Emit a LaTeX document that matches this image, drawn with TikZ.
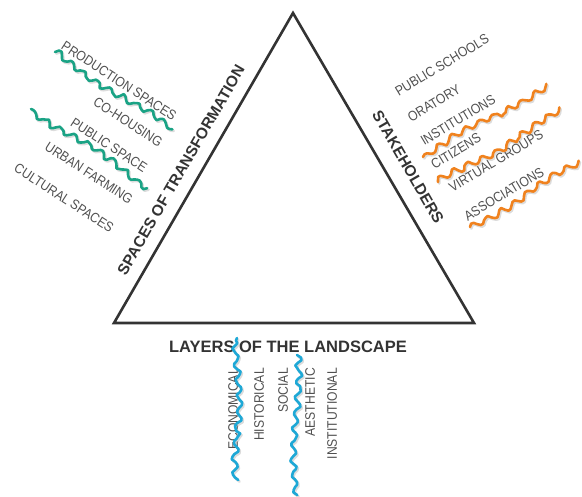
\documentclass[tikz,border=0pt]{standalone}
\usepackage{fontspec}
\setmainfont{Liberation Sans}
\newfontfamily\labfont[FakeStretch=0.88]{Liberation Sans}
\usetikzlibrary{calc}
\definecolor{tri}{HTML}{333333}
\definecolor{lbl}{HTML}{505050}
\definecolor{wgreen}{HTML}{1AA385}
\definecolor{worange}{HTML}{F0821E}
\definecolor{wblue}{HTML}{1EA8D6}
\tikzset{
  lab/.style={text=lbl, font=\labfont\fontsize{13.8}{14}\selectfont, inner sep=0pt},
  head/.style={text=tri, font=\bfseries\fontsize{15.5}{16}\selectfont, inner sep=0pt},
  wavebase/.style={line width=2.6pt, line cap=round, line join=round},
  waveshadow/.style={wavebase, black!45, opacity=0.3, transform canvas={shift={(1.3pt,-1.6pt)}}},
}
% #1 colour, #2 start, #3 end, #4 number of steps, #5 seed, #6 prefix
\newcommand\wavyline[6]{%
  \pgfmathsetseed{#5}%
  \coordinate (#60) at (#2);
  \foreach \i in {1,...,#4}{%
    \pgfmathsetmacro\tt{\i/#4}%
    \pgfmathsetmacro\oo{2.8*sin(\i*60+20*rand)+0.8*rand+2.4*sin(\i*7+#5*47)}%
    \coordinate (tmp) at ($(#2)!\tt!(#3)$);
    \coordinate (#6\i) at ($(tmp)!\oo pt!-90:(#2)$);
  }
  \draw[waveshadow] (#60) \foreach \i in {1,...,#4}{ -- (#6\i) };
  \draw[wavebase,#1] (#60) \foreach \i in {1,...,#4}{ -- (#6\i) };
}
\begin{document}
\begin{tikzpicture}[x=1pt,y=-1pt]
\useasboundingbox (0,0) rectangle (582,497);
% triangle
\coordinate (T) at (293,13);
\coordinate (L) at (114,323);
\coordinate (R) at (474,323);
\draw[tri, line width=2.6pt, line join=miter] (T) -- (R) -- (L) -- cycle;

% headings
\node[head, rotate=60] (hsp) at (181,170) {SPACES OF TRANSFORMATION};
\node[head, rotate=-60] (hst) at (408,167) {STAKEHOLDERS};
\node[head, font=\bfseries\fontsize{16.5}{17}\selectfont] (hla) at (288,347) {LAYERS OF THE LANDSCAPE};

% left labels
\node[lab, rotate=-33] (l1) at (119,81) {PRODUCTION SPACES};
\node[lab, rotate=-33] (l2) at (128,122) {CO-HOUSING};
\node[lab, rotate=-33] (l3) at (109,145) {PUBLIC SPACE};
\node[lab, rotate=-33] (l4) at (89,173) {URBAN FARMING};
\node[lab, rotate=-33] (l5) at (64,198) {CULTURAL SPACES};

% right labels
\node[lab, rotate=31] (r1) at (442,65) {PUBLIC SCHOOLS};
\node[lab, rotate=31] (r2) at (434,103) {ORATORY};
\node[lab, rotate=31] (r3) at (458,120) {INSTITUTIONS};
\node[lab, rotate=31] (r4) at (456,151) {CITIZENS};
\node[lab, rotate=31] (r5) at (496,161) {VIRTUAL GROUPS};
\node[lab, rotate=31] (r6) at (504,194) {ASSOCIATIONS};

% bottom labels
\node[lab, rotate=90, anchor=east] (b1) at (233,368) {ECONOMICAL};
\node[lab, rotate=90, anchor=east] (b2) at (259,368) {HISTORICAL};
\node[lab, rotate=90, anchor=east] (b3) at (283,368) {SOCIAL};
\node[lab, rotate=90, anchor=east] (b4) at (310,368) {AESTHETIC};
\node[lab, rotate=90, anchor=east] (b5) at (332,368) {INSTITUTIONAL};

% wavy line endpoints
\coordinate (g1a) at (55,52);   \coordinate (g1b) at (172,130);
\coordinate (g2a) at (31,109);  \coordinate (g2b) at (148,187);
\coordinate (o1a) at (423,157); \coordinate (o1b) at (547,85);
\coordinate (o2a) at (438,182); \coordinate (o2b) at (562,112);
\coordinate (o3a) at (470,227); \coordinate (o3b) at (580,163);
\coordinate (c1a) at (237,338); \coordinate (c1b) at (237,480);
\coordinate (c2a) at (297,355); \coordinate (c2b) at (295,495);

\wavyline{wgreen}{g1a}{g1b}{54}{3}{wa}
\wavyline{wgreen}{g2a}{g2b}{54}{5}{wb}
\wavyline{worange}{o1a}{o1b}{55}{7}{wc}
\wavyline{worange}{o2a}{o2b}{55}{2}{wd}
\wavyline{worange}{o3a}{o3b}{49}{4}{we}
\wavyline{wblue}{c1a}{c1b}{55}{6}{wf}
\wavyline{wblue}{c2a}{c2b}{54}{8}{wg}
\end{tikzpicture}
\end{document}
